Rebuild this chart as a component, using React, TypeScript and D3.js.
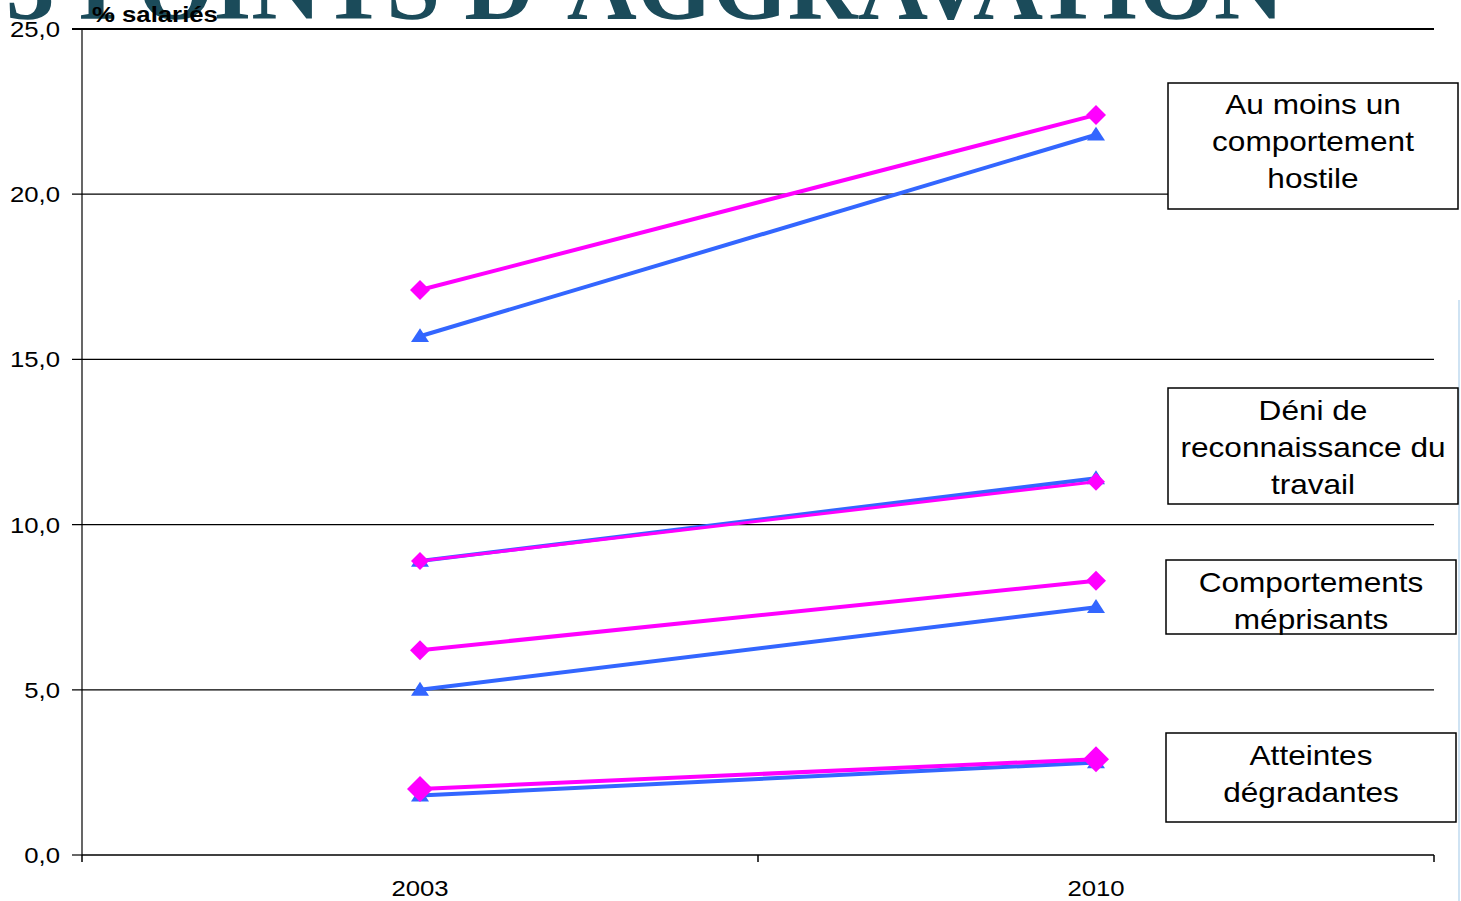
import React from 'react';
import * as d3 from 'd3';

const years = ['2003', '2010'];
const yTicks = [0, 5, 10, 15, 20, 25];

// two series per indicator: magenta (diamonds) and blue (triangles)
const hostileMagenta = [17.1, 22.4];
const hostileBlue = [15.7, 21.8];
const deniBlue = [8.9, 11.4];
const deniMagenta = [8.9, 11.3];
const meprisMagenta = [6.2, 8.3];
const meprisBlue = [5.0, 7.5];
const atteintesBlue = [1.8, 2.8];
const atteintesMagenta = [2.0, 2.9];

const labels = [
  ['Au moins un', 'comportement', 'hostile'],
  ['Déni de', 'reconnaissance du', 'travail'],
  ['Comportements', 'méprisants'],
  ['Atteintes', 'dégradantes'],
];

const MAGENTA = '#ff00ff';
const BLUE = '#3366ff';
const FONT = "'Liberation Sans', Arial, sans-serif";
const SX = 1.17; // text in the original is a bit stretched sideways

const W = 1461;
const H = 901;
const left = 82;
const right = 1434;
const top = 29;
const bottom = 855;

function Txt({ x, y, size, anchor = 'start', bold = false, children }: any) {
  return (
    <text
      transform={`translate(${x},${y}) scale(${SX},1)`}
      textAnchor={anchor}
      fontFamily={FONT}
      fontSize={size}
      fontWeight={bold ? 'bold' : 'normal'}
    >
      {children}
    </text>
  );
}

export default function App() {
  const x = d3.scaleBand().domain(years).range([left, right]);
  const y = d3.scaleLinear().domain([0, 25]).range([bottom, top]);
  const cx = (i: number) => (x(years[i]) as number) + x.bandwidth() / 2;

  const line = d3
    .line<number>()
    .x((_, i) => cx(i))
    .y((d) => y(d));

  const series = [
    { data: hostileBlue, color: BLUE, shape: 'tri', size: 9, width: 4 },
    { data: hostileMagenta, color: MAGENTA, shape: 'dia', size: 10, width: 4 },
    { data: deniBlue, color: BLUE, shape: 'tri', size: 9, width: 4 },
    { data: deniMagenta, color: MAGENTA, shape: 'dia', size: 9, width: 3 },
    { data: meprisBlue, color: BLUE, shape: 'tri', size: 9, width: 4 },
    { data: meprisMagenta, color: MAGENTA, shape: 'dia', size: 10, width: 4 },
    { data: atteintesBlue, color: BLUE, shape: 'tri', size: 9, width: 4 },
    { data: atteintesMagenta, color: MAGENTA, shape: 'dia', size: 13, width: 4 },
  ];

  const marker = (shape: string, px: number, py: number, s: number) =>
    shape === 'dia'
      ? `M${px},${py - s}L${px + s},${py}L${px},${py + s}L${px - s},${py}Z`
      : `M${px},${py - s * 0.9}L${px + s},${py + s * 0.65}L${px - s},${py + s * 0.65}Z`;

  // box frames and the centre of their first text line
  const boxes = [
    { x: 1168, y: 83, w: 290, h: 126, t: 104 },
    { x: 1168, y: 388, w: 290, h: 116, t: 410 },
    { x: 1166, y: 560, w: 290, h: 74, t: 582 },
    { x: 1166, y: 733, w: 290, h: 89, t: 755 },
  ];

  return (
    <svg width={W} height={H} style={{ position: 'absolute', left: 0, top: 0 }}>
      <rect width={W} height={H} fill="#fff" />
      <line x1={1459} x2={1459} y1={300} y2={H} stroke="#cfe3f3" strokeWidth={2} />

      <text
        x={6}
        y={19}
        fontFamily="'Liberation Serif', serif"
        fontWeight="bold"
        fontSize={96}
        fill="#1b4b5a"
        textLength={1278}
        lengthAdjust="spacingAndGlyphs"
      >
        3 POINTS D’AGGRAVATION
      </text>

      {yTicks.map((t) => (
        <g key={t}>
          <line x1={72} x2={t === 0 ? left : right} y1={y(t)} y2={y(t)} stroke="#000" strokeWidth={t === 25 ? 2 : 1.2} />
          <Txt x={60} y={y(t) + 8} size={22} anchor="end">
            {d3.format('.1f')(t).replace('.', ',')}
          </Txt>
        </g>
      ))}

      <line x1={left} x2={left} y1={top} y2={bottom} stroke="#000" strokeWidth={1.2} />
      <line x1={left} x2={right} y1={bottom} y2={bottom} stroke="#000" strokeWidth={1.5} />
      {[left, x('2010') as number, right].map((v) => (
        <line key={v} x1={v} x2={v} y1={bottom} y2={bottom + 7} stroke="#000" strokeWidth={1.5} />
      ))}
      {years.map((yr, i) => (
        <Txt key={yr} x={cx(i)} y={896} size={22} anchor="middle">
          {yr}
        </Txt>
      ))}

      <Txt x={92} y={22} size={22} bold>
        % salariés
      </Txt>

      {series.map((s, k) => (
        <g key={k}>
          <path d={line(s.data) as string} fill="none" stroke={s.color} strokeWidth={s.width} />
          {s.data.map((v, i) => (
            <path key={i} d={marker(s.shape, cx(i), y(v), s.size)} fill={s.color} />
          ))}
        </g>
      ))}

      {labels.map((l, k) => {
        const b = boxes[k];
        return (
          <g key={k}>
            <rect x={b.x} y={b.y} width={b.w} height={b.h} fill="#fff" stroke="#000" strokeWidth={1.5} />
            {l.map((t, j) => (
              <Txt key={j} x={b.x + b.w / 2} y={b.t + 10 + j * 37} size={27} anchor="middle">
                {t}
              </Txt>
            ))}
          </g>
        );
      })}
    </svg>
  );
}
